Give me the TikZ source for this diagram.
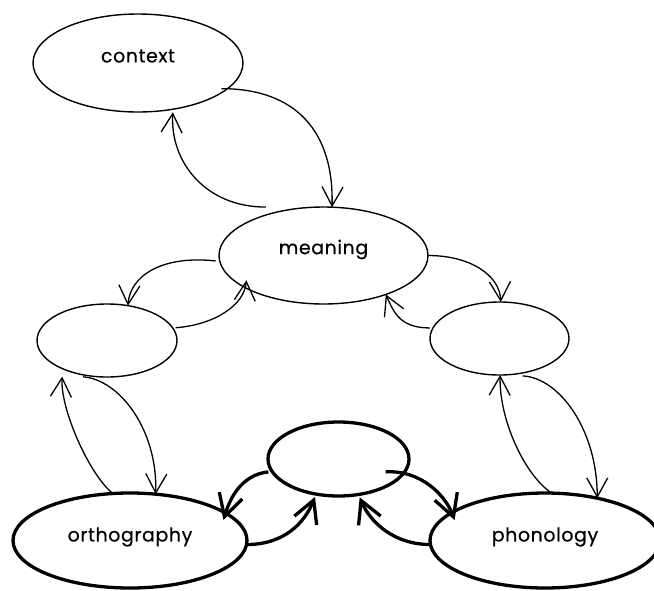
\documentclass[tikz,border=0pt]{standalone}
\usepackage{fontspec}
\setmainfont{Poppins}
\newfontfamily\bubfont{Poppins}[FakeBold=0.4,LetterSpace=3]
\usetikzlibrary{arrows.meta,shapes.geometric}
\begin{document}
\begin{tikzpicture}[x=1pt,y=-1pt,
  bub/.style={ellipse, draw, line width=1.4pt, inner sep=0pt, outer sep=0pt},
  bubthick/.style={bub, line width=3.3pt},
  lbl/.style={font=\bubfont\fontsize{19}{22}\selectfont},
  link/.style={line width=1.3pt, -{Straight Barb[length=19pt,width=21pt]}},
  linkthick/.style={line width=3.3pt, -{Straight Barb[length=22pt,width=24pt]}}]
\useasboundingbox (0,0) rectangle (654,590);

% upper layer
\node[bub, minimum width=210pt, minimum height=98pt,
      label={[lbl,yshift=7pt]center:context}] (context) at (138,63) {};
\node[bub, minimum width=209pt, minimum height=97pt,
      label={[lbl,yshift=6pt]center:meaning}] (meaning) at (323.5,255.5) {};
\node[bub, minimum width=140pt, minimum height=73pt] (ortholex) at (107,340.5) {};
\node[bub, minimum width=139pt, minimum height=73pt] (phonolex) at (499.5,338.5) {};

% lower layer
\node[bubthick, minimum width=141pt, minimum height=74pt] (hub) at (338.5,459) {};
\node[bubthick, minimum width=234pt, minimum height=95pt,
      label={[lbl,yshift=3.5pt]center:orthography}] (ortho) at (130,540.5) {};
\node[bubthick, minimum width=230pt, minimum height=95pt,
      label={[lbl,yshift=3.5pt]center:phonology}] (phon) at (545,540.5) {};

% context <-> meaning
\draw[link] ([xshift=-6pt]context.-16) .. controls +(75,0) and +(2,-75) .. (meaning.80);
\draw[link] ([yshift=8pt]meaning.145) .. controls +(-60,0) and +(-3,50) .. ([yshift=-3pt]context.-53);

% meaning <-> side ellipses
\draw[link] ([xshift=-4pt]meaning.183) .. controls +(-55,-6) and +(2,-29) .. (ortholex.59);
\draw[link] ([xshift=3pt]ortholex.11) .. controls +(39,-3) and +(-2,25) .. ([yshift=8pt]meaning.203);
\draw[link] (meaning.east) .. controls +(42,0) and +(-1,-27) .. (phonolex.88);
\draw[link] ([xshift=-3pt]phonolex.171) .. controls +(-30,0) and +(8,18) .. (meaning.-32);

% side ellipses <-> orthography / phonology
\draw[link] ([yshift=-2pt]ortholex.-125) .. controls +(37,3) and +(2,-64) .. (ortho.61);
\draw[link] (ortho.110) .. controls +(-23,-18) and +(-2,33) .. ([yshift=-8pt]ortholex.-148);
\draw[link] ([yshift=-3pt]phonolex.-56) .. controls +(37,2) and +(0,-68) .. (phon.39);
\draw[link] (phon.82) .. controls +(-27,-18) and +(-1,45) .. (phonolex.-89);

% hub <-> orthography / phonology
\draw[linkthick] ([xshift=-4pt]hub.-169) .. controls +(-28,3) and +(6,-20) .. ([yshift=-8pt]ortho.17);
\draw[linkthick] ([yshift=-4pt]ortho.east) .. controls +(38,0) and +(-10,25) .. ([yshift=-3pt]hub.-124);
\draw[linkthick] ([xshift=-19pt]hub.-11) .. controls +(35,-2) and +(-9,-25) .. ([yshift=-9pt]phon.162);
\draw[linkthick] ([yshift=-4pt]phon.west) .. controls +(-35,0) and +(11,26) .. ([yshift=-3pt]hub.-59);
\end{tikzpicture}
\end{document}
